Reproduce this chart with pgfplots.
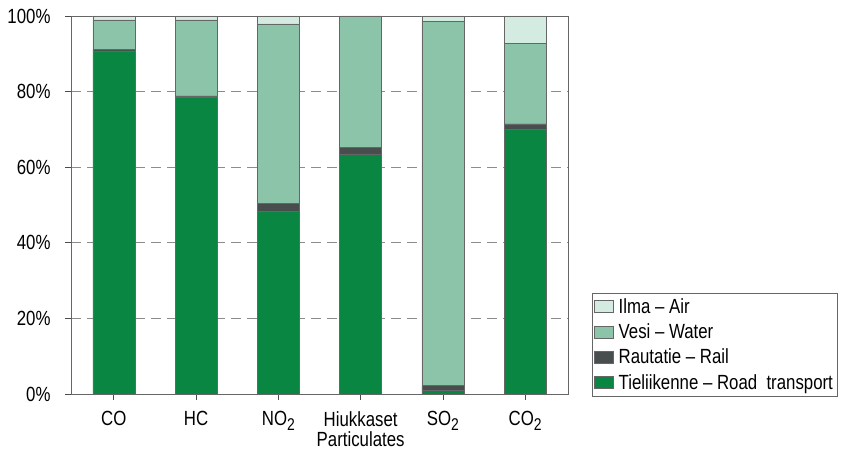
\documentclass[border=0pt]{standalone}
\usepackage{pgfplots}
\pgfplotsset{compat=1.18}
\usepackage{fontspec}
\setmainfont[FakeStretch=0.82]{Liberation Sans}
\definecolor{road}{RGB}{8,134,66}
\definecolor{rail}{RGB}{72,78,78}
\definecolor{water}{RGB}{140,196,170}
\definecolor{air}{RGB}{212,235,225}
\newcommand{\sub}[1]{\raisebox{-0.45ex}{\fontsize{17}{17}\selectfont #1}}
\begin{document}
\begin{tikzpicture}[font=\fontsize{20.5}{23}\selectfont]
\path[use as bounding box] (-71pt,-56pt) rectangle (773pt,394pt);
\begin{axis}[
  at={(0,0)}, anchor=south west,
  scale only axis, width=497pt, height=378pt,
  ybar stacked, bar width=42pt,
  xmin=-0.52, xmax=5.52, ymin=0, ymax=100,
  xtick={0,1,2,3,4,5},
  xticklabels={CO,HC,NO\sub{2},{Hiukkaset\\[-3pt]Particulates},SO\sub{2},CO\sub{2}},
  xticklabel style={align=center, text depth=0pt, yshift=-8pt},
  ytick={0,20,40,60,80,100},
  yticklabel={\pgfmathprintnumber{\tick}\%},
  /pgf/number format/assume math mode=true,
  xtick pos=lower, ytick pos=left,
  tick align=outside, major tick length=6pt,
  tick style={draw=black!70, line width=0.6pt},
  axis line style={draw=black!60, line width=0.6pt},
  ymajorgrids, grid style={draw=black!45, dash pattern=on 10pt off 6pt, line width=0.6pt},
  tick label style={font=\fontsize{20.5}{23}\selectfont},
  yticklabel style={xshift=-11pt},
  reverse legend,
  legend cell align=left,
  legend style={at={(1,0)}, anchor=south west, xshift=24pt, yshift=-2pt,
    draw=black!60, line width=0.5pt, font=\fontsize{20.5}{23}\selectfont,
    row sep=5pt, inner xsep=2pt, inner ysep=3pt},
  legend image code/.code={\draw[#1, draw=black!60, line width=0.4pt] (0pt,-6pt) rectangle (19pt,6pt); \path (22pt,0pt);},
  every axis plot/.append style={draw=black!60, line width=0.4pt},
]
\addplot[fill=road] coordinates {(0,90.8) (1,78.4) (2,48.3) (3,63.4) (4,0.9) (5,70.0)};
\addplot[fill=rail] coordinates {(0,0.4) (1,0.5) (2,2.2) (3,1.8) (4,1.3) (5,1.5)};
\addplot[fill=water] coordinates {(0,7.8) (1,20.1) (2,47.4) (3,34.8) (4,96.4) (5,21.3)};
\addplot[fill=air] coordinates {(0,1.0) (1,1.0) (2,2.1) (3,0) (4,1.4) (5,7.2)};
\legend{Tieliikenne -- Road\ \ transport, Rautatie -- Rail, Vesi -- Water, Ilma -- Air}
\end{axis}
\end{tikzpicture}
\end{document}
